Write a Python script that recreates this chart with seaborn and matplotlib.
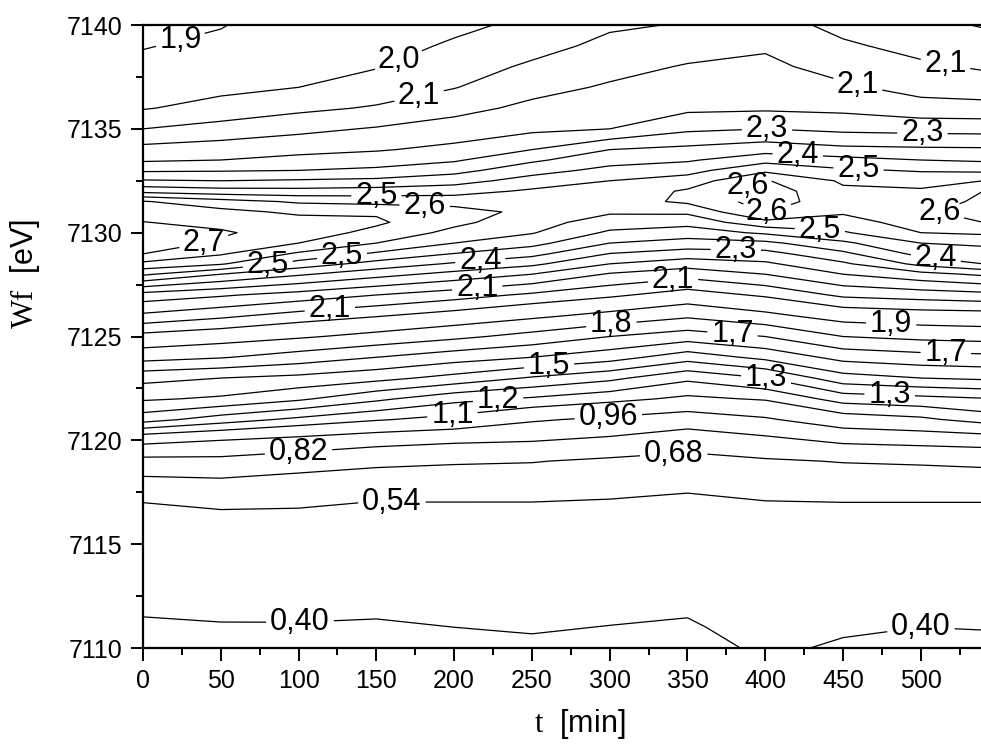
import numpy as np
import matplotlib
matplotlib.use("Agg")
import matplotlib.pyplot as plt
import seaborn as sns
from matplotlib.ticker import MultipleLocator, FormatStrFormatter

# energy rows and time columns of the map
energy_ev = [7110, 7111, 7112, 7114, 7116, 7117, 7118, 7119, 7120, 7121,
             7122, 7123, 7124, 7125, 7126, 7127, 7128, 7128.5, 7129, 7129.5,
             7130, 7130.5, 7131, 7131.5, 7132, 7132.5, 7133, 7133.5, 7134,
             7135, 7136, 7137, 7138, 7139, 7140]
time_min = [0, 50, 100, 150, 200, 250, 300, 350, 400, 450, 500, 540]

# intensity along energy at each time point
z_t000 = [0.362, 0.387, 0.413, 0.464, 0.515, 0.540, 0.645, 0.777, 1.001, 1.342, 1.514, 1.630,
          1.838, 1.975, 2.125, 2.250, 2.502, 2.613, 2.702, 2.738, 2.744, 2.702, 2.668, 2.635,
          2.468, 2.357, 2.270, 2.200, 2.163, 2.070, 1.995, 1.958, 1.922, 1.895, 1.875]
z_t050 = [0.369, 0.394, 0.418, 0.468, 0.518, 0.551, 0.658, 0.782, 0.960, 1.250, 1.485, 1.600,
          1.807, 1.947, 2.086, 2.219, 2.420, 2.568, 2.640, 2.690, 2.709, 2.680, 2.650, 2.588,
          2.448, 2.350, 2.274, 2.210, 2.175, 2.096, 2.025, 1.982, 1.952, 1.921, 1.895]
z_t100 = [0.369, 0.394, 0.419, 0.468, 0.518, 0.548, 0.631, 0.746, 0.915, 1.175, 1.418, 1.573,
          1.756, 1.913, 2.041, 2.182, 2.360, 2.460, 2.551, 2.630, 2.666, 2.659, 2.617, 2.550,
          2.443, 2.358, 2.280, 2.230, 2.190, 2.122, 2.054, 2.000, 1.983, 1.967, 1.950]
z_t150 = [0.366, 0.390, 0.415, 0.464, 0.513, 0.538, 0.614, 0.710, 0.869, 1.110, 1.322, 1.531,
          1.700, 1.871, 2.006, 2.140, 2.306, 2.394, 2.481, 2.560, 2.610, 2.641, 2.621, 2.537,
          2.450, 2.366, 2.294, 2.245, 2.204, 2.146, 2.077, 2.031, 1.996, 1.983, 1.970]
z_t200 = [0.377, 0.400, 0.423, 0.469, 0.515, 0.538, 0.610, 0.694, 0.841, 1.061, 1.233, 1.467,
          1.645, 1.823, 1.967, 2.101, 2.257, 2.341, 2.420, 2.490, 2.540, 2.577, 2.590, 2.532,
          2.462, 2.392, 2.327, 2.271, 2.228, 2.170, 2.118, 2.067, 2.037, 2.006, 1.990]
z_t250 = [0.385, 0.407, 0.428, 0.472, 0.516, 0.538, 0.608, 0.686, 0.827, 0.976, 1.186, 1.389,
          1.600, 1.767, 1.921, 2.057, 2.210, 2.296, 2.373, 2.443, 2.495, 2.518, 2.541, 2.540,
          2.501, 2.449, 2.393, 2.338, 2.280, 2.194, 2.156, 2.118, 2.081, 2.045, 2.010]
z_t300 = [0.376, 0.398, 0.420, 0.464, 0.509, 0.531, 0.584, 0.658, 0.794, 0.933, 1.133, 1.325,
          1.542, 1.700, 1.871, 2.015, 2.133, 2.210, 2.280, 2.350, 2.408, 2.457, 2.499, 2.527,
          2.511, 2.490, 2.440, 2.394, 2.350, 2.210, 2.179, 2.148, 2.118, 2.088, 2.060]
z_t350 = [0.368, 0.390, 0.412, 0.457, 0.501, 0.523, 0.560, 0.638, 0.741, 0.885, 1.078, 1.222,
          1.444, 1.650, 1.817, 1.963, 2.098, 2.171, 2.249, 2.322, 2.385, 2.443, 2.504, 2.573,
          2.570, 2.520, 2.467, 2.411, 2.368, 2.266, 2.195, 2.170, 2.145, 2.111, 2.075]
z_t400 = [0.415, 0.432, 0.449, 0.484, 0.518, 0.535, 0.592, 0.665, 0.786, 0.943, 1.111, 1.300,
          1.527, 1.700, 1.875, 2.012, 2.140, 2.198, 2.257, 2.333, 2.432, 2.540, 2.633, 2.662,
          2.668, 2.636, 2.544, 2.467, 2.392, 2.280, 2.199, 2.177, 2.155, 2.131, 2.100]
z_t450 = [0.389, 0.411, 0.432, 0.475, 0.518, 0.539, 0.610, 0.686, 0.845, 1.040, 1.243, 1.460,
          1.633, 1.800, 1.943, 2.084, 2.210, 2.268, 2.336, 2.406, 2.482, 2.532, 2.569, 2.590,
          2.573, 2.550, 2.500, 2.443, 2.368, 2.263, 2.193, 2.151, 2.114, 2.080, 2.050]
z_t500 = [0.377, 0.400, 0.423, 0.469, 0.516, 0.539, 0.612, 0.696, 0.863, 1.077, 1.269, 1.500,
          1.662, 1.827, 1.960, 2.102, 2.257, 2.370, 2.443, 2.490, 2.560, 2.590, 2.620, 2.595,
          2.570, 2.532, 2.484, 2.420, 2.362, 2.257, 2.166, 2.116, 2.081, 2.049, 2.020]
z_t540 = [0.381, 0.403, 0.426, 0.471, 0.516, 0.539, 0.615, 0.709, 0.878, 1.143, 1.293, 1.517,
          1.672, 1.840, 1.965, 2.116, 2.292, 2.420, 2.459, 2.504, 2.572, 2.630, 2.657, 2.644,
          2.630, 2.560, 2.476, 2.410, 2.360, 2.254, 2.163, 2.105, 2.062, 2.031, 1.995]

# contour levels
levels = [0.40, 0.54, 0.68, 0.82, 0.96, 1.1, 1.2, 1.3, 1.4, 1.5, 1.6, 1.7,
          1.8, 1.9, 2.0, 2.07, 2.14, 2.21, 2.28, 2.35, 2.42, 2.49, 2.56,
          2.63, 2.70]

# where the level labels sit (t, E)
label_spots = [(25, 7139.0), (166, 7138.0), (178, 7136.4), (150, 7131.9),
               (181, 7131.2), (40, 7129.2), (80, 7128.6), (128, 7128.8),
               (217, 7128.5), (215, 7127.2), (120, 7126.4), (341, 7127.5),
               (381, 7129.0), (401, 7134.85), (421, 7133.9), (390, 7132.0),
               (401, 7131.1), (435, 7130.0), (460, 7133.2), (459, 7137.0),
               (515, 7137.8), (501, 7134.7), (512, 7131.0), (510, 7129.0),
               (481, 7125.7), (516, 7123.9), (301, 7125.65), (379, 7125.2),
               (261, 7123.6), (401, 7123.15), (480, 7122.3), (228, 7122.2),
               (199, 7121.1), (299, 7121.3), (100, 7119.4), (341, 7119.5),
               (160, 7117.1), (101, 7111.0), (500, 7111.0)]

sns.set_theme(style="ticks", rc={
    "axes.edgecolor": "black", "xtick.color": "black", "ytick.color": "black",
    "text.color": "black", "axes.labelcolor": "black"})
plt.rcParams['font.family'] = ['Liberation Sans', 'DejaVu Sans']
plt.rcParams['mathtext.fontset'] = 'custom'
plt.rcParams['mathtext.rm'] = 'Liberation Serif'

fig = plt.figure(figsize=(9.81, 7.45), dpi=100)
ax = fig.add_axes([0.1458, 0.1302, 0.8563, 0.8362])

T, E = np.meshgrid(time_min, energy_ev)
Z = np.column_stack([z_t000, z_t050, z_t100, z_t150, z_t200, z_t250,
                     z_t300, z_t350, z_t400, z_t450, z_t500, z_t540])

cs = ax.contour(T, E, Z, levels=levels, colors='black', linewidths=0.9)


def fmt(v):
    s = f"{v:.2f}" if v < 1 else f"{v:.1f}"
    return s.replace('.', ',')


texts = ax.clabel(cs, fmt=fmt, fontsize=22, inline=True, inline_spacing=4,
                  manual=label_spots)
# labels stay upright, as in the original
for txt in texts:
    txt.set_rotation(0)

ax.set_xlim(0, 540)
ax.set_ylim(7110, 7140)
ax.xaxis.set_major_locator(MultipleLocator(50))
ax.xaxis.set_minor_locator(MultipleLocator(25))
ax.yaxis.set_major_locator(MultipleLocator(5))
ax.yaxis.set_minor_locator(MultipleLocator(2.5))
ax.yaxis.set_major_formatter(FormatStrFormatter('%d'))
ax.tick_params(which='major', direction='out', length=9, width=1.4,
               labelsize=18, pad=6)
ax.tick_params(which='minor', direction='out', length=5, width=1.4)
ax.tick_params(top=False, right=False)

ax.spines['right'].set_visible(False)
for side in ['left', 'bottom', 'top']:
    ax.spines[side].set_linewidth(1.6)

ax.set_xlabel(r"$\mathrm{t}$  [min]", fontsize=22)
ax.set_ylabel(r"$\mathrm{Wf}$  [eV]", fontsize=22)
ax.xaxis.set_label_coords(0.52, -0.095)
ax.yaxis.set_label_coords(-0.12, 0.60)

fig.savefig("out.png", dpi=100)
